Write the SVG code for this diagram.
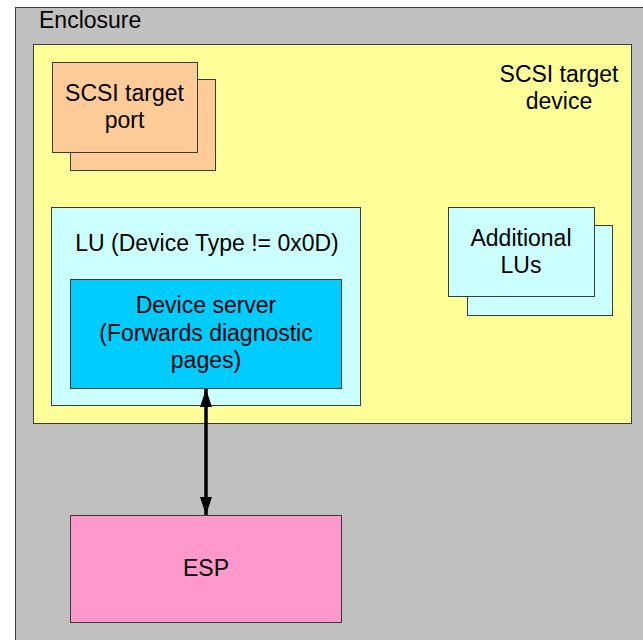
<svg xmlns="http://www.w3.org/2000/svg" width="643" height="640" viewBox="0 0 643 640">
<defs>
<style>
text{font-family:"Liberation Sans",Arial,sans-serif;font-size:23px;fill:#000;}
.c{text-anchor:middle;}
.box{stroke:#3a3a3a;stroke-width:1;}
.conn{stroke:#000;stroke-width:3.5;fill:none;}
</style>
<marker id="arr" viewBox="0 0 18 12" refX="18" refY="6" markerWidth="18" markerHeight="12" markerUnits="userSpaceOnUse" orient="auto-start-reverse">
<path d="M0,0 L18,6 L0,12 Z" fill="#000"/>
</marker>
</defs>
<rect width="643" height="640" fill="#fff"/>
<g id="enclosure">
<rect class="box" x="15.5" y="7.5" width="640" height="650" fill="#C0C0C0"/>
<text x="39" y="28">Enclosure</text>
</g>
<g id="target-device">
<rect class="box" x="33.5" y="44.5" width="598" height="379" fill="#FFFF99"/>
<text class="c" x="559" y="82">SCSI target</text>
<text class="c" x="559" y="109">device</text>
</g>
<g id="target-port">
<rect class="box" x="70.5" y="79.5" width="145" height="91" fill="#FFCC99"/>
<rect class="box" x="52.5" y="62.5" width="145" height="90" fill="#FFCC99"/>
<text class="c" x="124.5" y="101">SCSI target</text>
<text class="c" x="124.5" y="128">port</text>
</g>
<g id="lu">
<rect class="box" x="51.5" y="207.5" width="309" height="198" fill="#CCFFFF"/>
<text class="c" x="207" y="251">LU (Device Type != 0x0D)</text>
</g>
<g id="device-server">
<rect class="box" x="70.5" y="279.5" width="271" height="109" fill="#00CCFF"/>
<text class="c" x="206" y="313">Device server</text>
<text class="c" x="206" y="341">(Forwards diagnostic</text>
<text class="c" x="206" y="368">pages)</text>
</g>
<g id="additional-lus">
<rect class="box" x="467.5" y="225.5" width="145" height="90" fill="#CCFFFF"/>
<rect class="box" x="448.5" y="207.5" width="146" height="89" fill="#CCFFFF"/>
<text class="c" x="521" y="246">Additional</text>
<text class="c" x="521" y="273">LUs</text>
</g>
<g id="esp">
<rect class="box" x="70.5" y="515.5" width="271" height="107" fill="#FF99CC"/>
<text class="c" x="206" y="576">ESP</text>
</g>
<g id="connectors">
<line class="conn" x1="206" y1="389" x2="206" y2="515" marker-start="url(#arr)" marker-end="url(#arr)"/>
</g>
</svg>
